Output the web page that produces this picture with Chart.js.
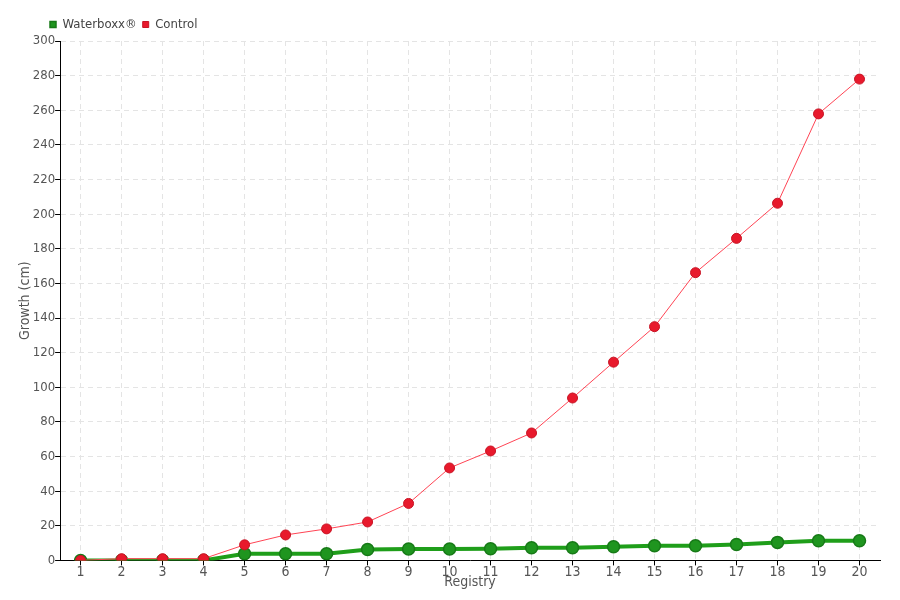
<!DOCTYPE html>
<html>
<head>
<meta charset="utf-8">
<script src="https://cdn.jsdelivr.net/npm/chart.js@4"></script>
<style>
  html, body { margin: 0; padding: 0; background: #fff; }
  #wrap { width: 900px; height: 600px; }
</style>
</head>
<body>
<div id="wrap"><canvas id="growth-chart" width="900" height="600"></canvas></div>
<script>
const registry = ['1','2','3','4','5','6','7','8','9','10','11','12','13','14','15','16','17','18','19','20'];
const waterboxx = [0, 0, 0, 0, 3.8, 3.8, 3.8, 6.3, 6.6, 6.6, 6.7, 7.3, 7.3, 7.9, 8.5, 8.5, 9.2, 10.4, 11.3, 11.3];
const control = [0, 1, 1, 1, 9, 14.7, 18.2, 22.2, 32.9, 53.4, 63.2, 73.6, 93.8, 114.5, 135, 166.2, 186, 206.3, 257.9, 278];

const fontFamily = "'DejaVu Sans Condensed', sans-serif";
Chart.defaults.font.family = fontFamily;
Chart.defaults.color = '#555';

// push the legend over so it starts near the y axis, like the original
const legendShift = {
    id: 'legendShift',
    afterLayout(chart) {
        if (chart.legend) {
            chart.legend.left += 27;
            chart.legend.right += 27;
        }
    },
};

const ctx = document.getElementById('growth-chart').getContext('2d');
new Chart(ctx, {
    type: 'line',
    data: {
        labels: registry,
        datasets: [{
            label: 'Waterboxx®',
            data: waterboxx,
            borderColor: '#1f9e1a',
            backgroundColor: '#1f9e1a',
            borderWidth: 4,
            pointRadius: 6,
            pointBackgroundColor: '#1f951f',
            pointBorderColor: '#177a17',
            pointBorderWidth: 1.5,
            tension: 0,
            order: 1,
        }, {
            label: 'Control',
            data: control,
            borderColor: '#ff4454',
            backgroundColor: '#e8192c',
            borderWidth: 1,
            pointRadius: 5,
            pointBackgroundColor: '#e8192c',
            pointBorderColor: '#c81425',
            pointBorderWidth: 1,
            tension: 0,
            order: 0,
        }],
    },
    options: {
        responsive: false,
        animation: false,
        layout: {
            padding: {left: 17, right: 20, top: 12, bottom: 9},
        },
        plugins: {
            legend: {
                position: 'top',
                align: 'start',
                labels: {
                    usePointStyle: true,
                    pointStyle: 'rect',
                    boxWidth: 6,
                    boxHeight: 6,
                    padding: 6,
                    font: {size: 13},
                    color: '#444',
                    sort: (a, b) => a.datasetIndex - b.datasetIndex,
                },
            },
            tooltip: {enabled: false},
        },
        scales: {
            x: {
                offset: true,
                title: {
                    display: true,
                    text: 'Registry',
                    font: {size: 14},
                    color: '#555',
                    padding: {top: -6, bottom: 0},
                },
                grid: {
                    offset: false,
                    color: '#e4e4e4',
                    tickColor: '#000',
                    tickLength: 5,
                    tickBorderDash: [],
                },
                border: {color: '#000', width: 1, dash: [5, 4]},
                ticks: {font: {size: 14}, color: '#555', padding: -1, maxRotation: 0},
            },
            y: {
                min: 0,
                max: 300,
                title: {
                    display: true,
                    text: 'Growth (cm)',
                    font: {size: 14},
                    color: '#555',
                    padding: {top: 0, bottom: -1},
                },
                grid: {
                    color: '#e4e4e4',
                    tickColor: '#000',
                    tickLength: 5,
                    tickBorderDash: [],
                },
                border: {color: '#000', width: 1, dash: [5, 4]},
                ticks: {stepSize: 20, font: {size: 13}, color: '#555', padding: 0},
            },
        },
    },
    plugins: [legendShift],
});
</script>
</body>
</html>
